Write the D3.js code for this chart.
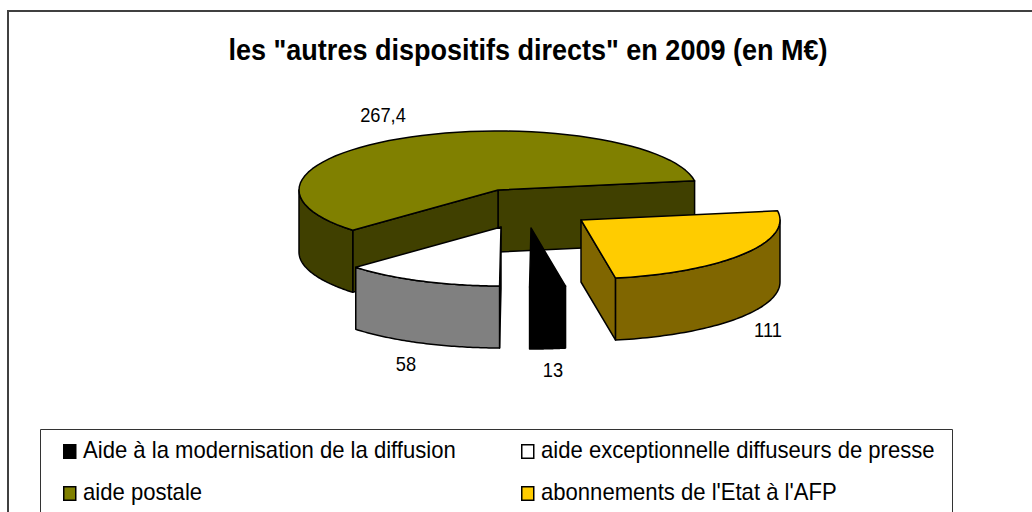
<!DOCTYPE html>
<html>
<head>
<meta charset="utf-8">
<script src="https://cdn.jsdelivr.net/npm/d3@7"></script>
<style>
  html, body { margin: 0; padding: 0; background: #fff; }
  svg { display: block; }
  text { font-family: "Liberation Sans", Arial, sans-serif; fill: #000; }
</style>
</head>
<body>
<svg id="chart" width="1032" height="512"></svg>
<script>
var titleText = 'les "autres dispositifs directs" en 2009 (en M€)'

var categories = ["Aide à la modernisation de la diffusion", "aide exceptionnelle diffuseurs de presse", "aide postale", "abonnements de l'Etat à l'AFP"]
var values = [13, 58, 267.4, 111]
var valueLabels = ["13", "58", "267,4", "111"]
var topColors = ["#000000", "#ffffff", "#808000", "#ffcc00"]
var sideColors = ["#000000", "#808080", "#404000", "#806600"]

var canvas = d3.select("#chart")

// pie layout, the 3d look is only a squashed ellipse with a depth
var cx = 498, cy = 190, rx = 199, ry = 59, depth = 62
var explode = [[33, 38], [3, 37], [0, 0], [83, 30]]
var labelPos = [[553, 377], [406, 371], [383, 122], [768, 337]]

// the reference text is narrower than the font, squeeze it after measuring
function squeeze(sel, factor) {
  sel.each(function() {
    d3.select(this)
      .attr("textLength", this.getComputedTextLength() * factor)
      .attr("lengthAdjust", "spacingAndGlyphs")
  })
}

canvas.append("path")
      .attr("d", "M8,512V11H1032")
      .attr("fill", "none")
      .attr("stroke", "#404040")
      .attr("stroke-width", 2)

canvas.append("text")
      .attr("x", 528)
      .attr("y", 59.5)
      .attr("text-anchor", "middle")
      .attr("font-size", 30)
      .attr("font-weight", "bold")
      .text(titleText)
      .call(function(sel) {
        var w = sel.node().getComputedTextLength()
        squeeze(sel, 599 / w)
      })

var arcs = d3.pie().sort(null)
             .startAngle(170 * Math.PI / 180)
             .endAngle(530 * Math.PI / 180)(values)

var line = d3.line()

function pt(angle, ox, oy) {
  return [ox + rx * Math.sin(angle), oy - ry * Math.cos(angle)]
}

function arcPoints(a0, a1, ox, oy) {
  return d3.range(0, 61).map(function(i) { return pt(a0 + (a1 - a0) * i / 60, ox, oy) })
}

function down(p) { return [p[0], p[1] + depth] }

function drawPoly(g, points, fill, stroke) {
  g.append("path")
   .attr("d", line(points) + "Z")
   .attr("fill", fill)
   .attr("stroke", stroke)
   .attr("stroke-width", 1.5)
   .attr("stroke-linejoin", "round")
}

// back slices first, yellow goes last
var drawOrder = [2, 1, 0, 3]
drawOrder.forEach(function(i) {
  var d = arcs[i]
  var ox = cx + explode[i][0], oy = cy + explode[i][1]
  var g = canvas.append("g").attr("class", "slice")
  var apex = [ox, oy]
  var a0 = d.startAngle, a1 = d.endAngle
  var p0 = pt(a0, ox, oy), p1 = pt(a1, ox, oy)

  // cut walls, only the ones turned to the viewer
  if (Math.sin(a1) > 0) drawPoly(g, [apex, p1, down(p1), down(apex)], sideColors[i], "#000")
  if (Math.sin(a0) < 0) drawPoly(g, [apex, p0, down(p0), down(apex)], sideColors[i], "#000")

  // outer wall, only the part that faces the front
  var segs = [[Math.max(a0, Math.PI / 2), Math.min(a1, 1.5 * Math.PI)],
              [Math.max(a0, 2.5 * Math.PI), Math.min(a1, 3.5 * Math.PI)]]
  segs.forEach(function(s) {
    if (s[1] <= s[0]) return
    var rim = arcPoints(s[0], s[1], ox, oy)
    drawPoly(g, rim.concat(rim.map(down).reverse()), sideColors[i], "#000")
  })

  // top face
  drawPoly(g, [apex].concat(arcPoints(a0, a1, ox, oy)), topColors[i], "#000")
})

canvas.selectAll(".valueLabel").data(valueLabels).enter()
      .append("text")
      .attr("class", "valueLabel")
      .attr("x", function(d, i) { return labelPos[i][0] })
      .attr("y", function(d, i) { return labelPos[i][1] })
      .attr("text-anchor", "middle")
      .attr("font-size", 21)
      .text(function(d) { return d })
      .call(squeeze, 0.87)

// legend
canvas.append("path")
      .attr("d", "M40.5,512V429.5H952.5V512")
      .attr("fill", "#fff")
      .attr("stroke", "#333")
      .attr("stroke-width", 1)

var legendX = [63, 521], legendY = [444, 486]
var legendRows = [[0, 0], [1, 0], [0, 1], [1, 1]]
var legend = canvas.selectAll(".legendItem").data(categories).enter()
                   .append("g")
                   .attr("class", "legendItem")
                   .attr("transform", function(d, i) {
                     return "translate(" + legendX[legendRows[i][0]] + "," + legendY[legendRows[i][1]] + ")"
                   })

legend.append("rect")
      .attr("x", 0.75)
      .attr("y", 0.75)
      .attr("width", 12)
      .attr("height", 13.5)
      .attr("fill", function(d, i) { return topColors[i] })
      .attr("stroke", "#000")
      .attr("stroke-width", 1.5)

legend.append("text")
      .attr("x", 20)
      .attr("y", 14)
      .attr("font-size", 24)
      .text(function(d) { return d })
      .call(squeeze, 0.92)
</script>
</body>
</html>
